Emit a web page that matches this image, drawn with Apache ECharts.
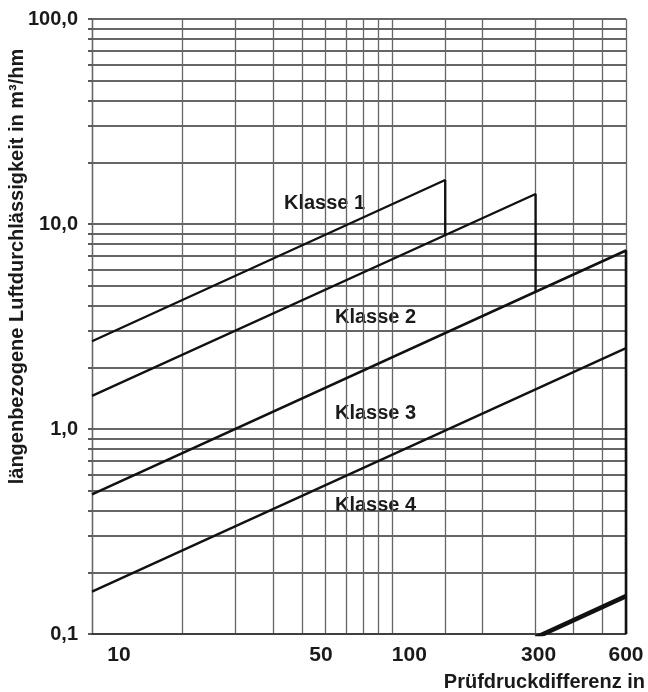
<!DOCTYPE html>
<html><head><meta charset="utf-8">
<script src="https://cdn.jsdelivr.net/npm/echarts@6/dist/echarts.min.js"></script>
<style>html,body{margin:0;padding:0;background:#fff}#c{width:648px;height:692px}</style>
</head><body><div id="c"></div>
<script>
// Grid / tick values
const xGridValues = [10, 20, 30, 40, 50, 60, 70, 80, 90, 100, 150, 200, 300, 400, 500, 600];
const xLabelValues = [10, 50, 100, 300, 600];
const yGridValues = [0.1, 0.2, 0.3, 0.4, 0.5, 0.6, 0.7, 0.8, 0.9,
                     1, 2, 3, 4, 5, 6, 7, 8, 9,
                     10, 20, 30, 40, 50, 60, 70, 80, 90, 100];
const yLabelValues = [0.1, 1, 10, 100];

// Series: [Prüfdruckdifferenz in Pa, Luftdurchlässigkeit in m³/hm]
const klasse1 = [[10, 2.68], [150, 16.4], [150, 8.84]];
const klasse2 = [[10, 1.45], [300, 14.0], [300, 4.68]];
const klasse3 = [[10, 0.48], [600, 7.43], [600, 0.1]];
const klasse4 = [[10, 0.161], [600, 2.48]];
const grenzlinie = [[300, 0.096], [600, 0.153]];

const classNames = ['Klasse 1', 'Klasse 2', 'Klasse 3', 'Klasse 4'];

const FONT = '"Liberation Sans", Arial, Helvetica, sans-serif';
const TXT = '#1a1a1a';
const labelShift = {10: 27, 50: 19, 100: 17, 300: 3, 600: 0};

const rich = {};
xLabelValues.forEach(v => {
  rich['s' + v] = {fontSize: 21, fontWeight: 'bold', fontFamily: FONT, color: TXT, padding: [0, 0, 0, 2 * labelShift[v]]};
});

const chart = echarts.init(document.getElementById('c'), null, {renderer: 'canvas'});

function lineSeries(name, data, width) {
  return {
    name: name, type: 'line', data: data, symbol: 'none', silent: true,
    lineStyle: {color: '#111', width: width}, clip: true, animation: false
  };
}

chart.setOption({
  animation: false,
  backgroundColor: '#fff',
  grid: {left: 92, right: 22, top: 19, bottom: 58, outerBoundsMode: 'none', containLabel: false},
  xAxis: {
    type: 'log', logBase: 10, min: 10, max: 600,
    name: 'Prüfdruckdifferenz in',
    nameLocation: 'end', nameGap: 19, nameMoveOverlap: false,
    nameTextStyle: {fontSize: 20, fontWeight: 'bold', fontFamily: FONT, color: TXT, align: 'right', verticalAlign: 'top', padding: [38, 0, 0, 0]},
    axisLine: {show: true, lineStyle: {color: '#333', width: 1.6}},
    axisTick: {show: false, customValues: xGridValues},
    axisLabel: {
      customValues: xLabelValues, margin: 11,
      fontSize: 21, fontWeight: 'bold', fontFamily: FONT, color: TXT,
      formatter: v => '{s' + Math.round(v) + '|' + Math.round(v) + '}',
      rich: rich
    },
    splitLine: {show: true, lineStyle: {color: '#666', width: 1.3}},
    minorSplitLine: {show: false}
  },
  yAxis: {
    type: 'log', logBase: 10, min: 0.1, max: 100,
    name: 'längenbezogene Luftdurchlässigkeit in m³/hm',
    nameLocation: 'middle', nameRotate: 90, nameGap: 65, nameMoveOverlap: false,
    nameTextStyle: {fontSize: 20, fontWeight: 'bold', fontFamily: FONT, color: TXT, padding: [0, 0, 0, 120]},
    axisLine: {show: true, lineStyle: {color: '#666', width: 1.3}},
    axisTick: {show: true, length: 4, customValues: yGridValues, lineStyle: {color: '#333', width: 1.6}},
    axisLabel: {
      customValues: yLabelValues, margin: 14,
      fontSize: 20, fontWeight: 'bold', fontFamily: FONT, color: TXT,
      formatter: v => Number(v).toFixed(1).replace('.', ',')
    },
    splitLine: {show: true, lineStyle: {color: '#333', width: 1.6}},
    minorSplitLine: {show: false}
  },
  graphic: [
    {type: 'text', left: 284, top: 193, style: {text: classNames[0], fontSize: 20, fontWeight: 'bold', fontFamily: FONT, fill: TXT}},
    {type: 'text', left: 335, top: 307, style: {text: classNames[1], fontSize: 20, fontWeight: 'bold', fontFamily: FONT, fill: TXT}},
    {type: 'text', left: 335, top: 403, style: {text: classNames[2], fontSize: 20, fontWeight: 'bold', fontFamily: FONT, fill: TXT}},
    {type: 'text', left: 335, top: 495, style: {text: classNames[3], fontSize: 20, fontWeight: 'bold', fontFamily: FONT, fill: TXT}}
  ],
  series: [
    lineSeries(classNames[0], klasse1, 2.3),
    lineSeries(classNames[1], klasse2, 2.3),
    lineSeries(classNames[2], klasse3, 2.6),
    lineSeries(classNames[3], klasse4, 2.3),
    lineSeries('Grenze', grenzlinie, 4.5)
  ]
});
</script>
</body></html>
